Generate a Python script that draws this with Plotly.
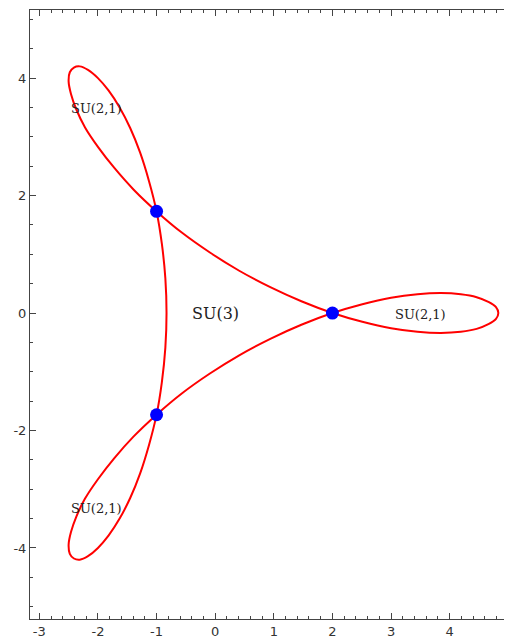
import plotly.graph_objects as go

# curve points (closed loop with three outer lobes),
# traced in order starting from the tip of the right-hand lobe
curve_x = [4.83, 4.79, 4.66, 4.46, 4.19, 3.85, 3.45, 3.00, 2.51, 2.00,
           1.47, 0.94, 0.41, -0.09, -0.57, -1.00, -1.39, -1.72, -2.00,
           -2.22, -2.37, -2.46, -2.50, -2.48, -2.41, -2.31, -2.17, -2.00,
           -1.82, -1.63, -1.45, -1.28, -1.13, -1.00, -0.91, -0.85, -0.83,
           -0.85, -0.91, -1.00, -1.13, -1.28, -1.45, -1.63, -1.82, -2.00,
           -2.17, -2.31, -2.41, -2.48, -2.50, -2.46, -2.37, -2.22, -2.00,
           -1.72, -1.39, -1.00, -0.57, -0.09, 0.41, 0.94, 1.47, 2.00,
           2.51, 3.00, 3.45, 3.85, 4.19, 4.46, 4.66, 4.79, 4.83]
curve_y = [0.00, -0.10, -0.19, -0.27, -0.32, -0.34, -0.32, -0.26, -0.15, 0.00,
           0.20, 0.44, 0.72, 1.03, 1.37, 1.73, 2.10, 2.47, 2.83,
           3.16, 3.47, 3.73, 3.94, 4.10, 4.18, 4.20, 4.14, 4.00,
           3.79, 3.50, 3.15, 2.73, 2.25, 1.73, 1.18, 0.59, 0.00,
           -0.59, -1.18, -1.73, -2.25, -2.73, -3.15, -3.50, -3.79, -4.00,
           -4.14, -4.20, -4.18, -4.10, -3.94, -3.73, -3.47, -3.16, -2.83,
           -2.47, -2.10, -1.73, -1.37, -1.03, -0.72, -0.44, -0.20, 0.00,
           0.15, 0.26, 0.32, 0.34, 0.32, 0.27, 0.19, 0.10, 0.00]

# self-intersection points
dot_x = [2.0, -1.0, -1.0]
dot_y = [0.0, 1.732, -1.732]

# region labels
label_text = ["SU(3)", "SU(2,1)", "SU(2,1)", "SU(2,1)"]
label_x = [0.0, 3.5, -2.02, -2.02]
label_y = [0.0, -0.03, 3.49, -3.33]
label_size = [16, 13, 13, 13]

x_ticks = [-3, -2, -1, 0, 1, 2, 3, 4, 5]
x_ticktext = ["-3", "-2", "-1", "0", "1", "2", "3", "4", "5"]
y_ticks = [-4, -2, 0, 2, 4]
y_ticktext = ["-4", "-2", "0", "2", "4"]

AXIS_COLOR = "#444444"

fig = go.Figure()
fig.add_trace(go.Scatter(
    x=curve_x, y=curve_y, mode="lines",
    line=dict(color="#ff0000", width=2, shape="spline", smoothing=1.0),
    hoverinfo="skip",
))
fig.add_trace(go.Scatter(
    x=dot_x, y=dot_y, mode="markers",
    marker=dict(color="#0000ff", size=13, line=dict(width=0)),
))
for txt, lx, ly, sz in zip(label_text, label_x, label_y, label_size):
    fig.add_annotation(
        x=lx, y=ly, text=txt, showarrow=False,
        font=dict(family="DejaVu Serif", size=sz, color="#222222"),
    )

fig.update_xaxes(
    range=[-3.159, 5.063], tickmode="array", tickvals=x_ticks, ticktext=x_ticktext,
    showgrid=False, zeroline=False, showline=True, linecolor=AXIS_COLOR, linewidth=1,
    mirror="ticks", ticks="inside", ticklen=6, tickcolor=AXIS_COLOR,
    minor=dict(tickmode="linear", tick0=0, dtick=0.2, ticks="inside", ticklen=3,
               tickcolor=AXIS_COLOR, showgrid=False),
    tickfont=dict(family="DejaVu Sans", size=13, color="#333333"),
    ticklabeloverflow="allow",
)
fig.update_yaxes(
    range=[-5.21, 5.16], tickmode="array", tickvals=y_ticks, ticktext=y_ticktext,
    showgrid=False, zeroline=False, showline=True, linecolor=AXIS_COLOR, linewidth=1,
    mirror="ticks", ticks="inside", ticklen=6, tickcolor=AXIS_COLOR,
    minor=dict(tickmode="linear", tick0=0, dtick=0.5, ticks="inside", ticklen=3,
               tickcolor=AXIS_COLOR, showgrid=False),
    tickfont=dict(family="DejaVu Sans", size=13, color="#333333"),
)
# the page body adds an 8px offset, so the figure is sized to what stays visible
fig.update_layout(
    width=504, height=633,
    margin=dict(l=22, r=0, t=2, b=22),
    plot_bgcolor="white", paper_bgcolor="white",
    showlegend=False,
)
fig.write_html("out.html")
